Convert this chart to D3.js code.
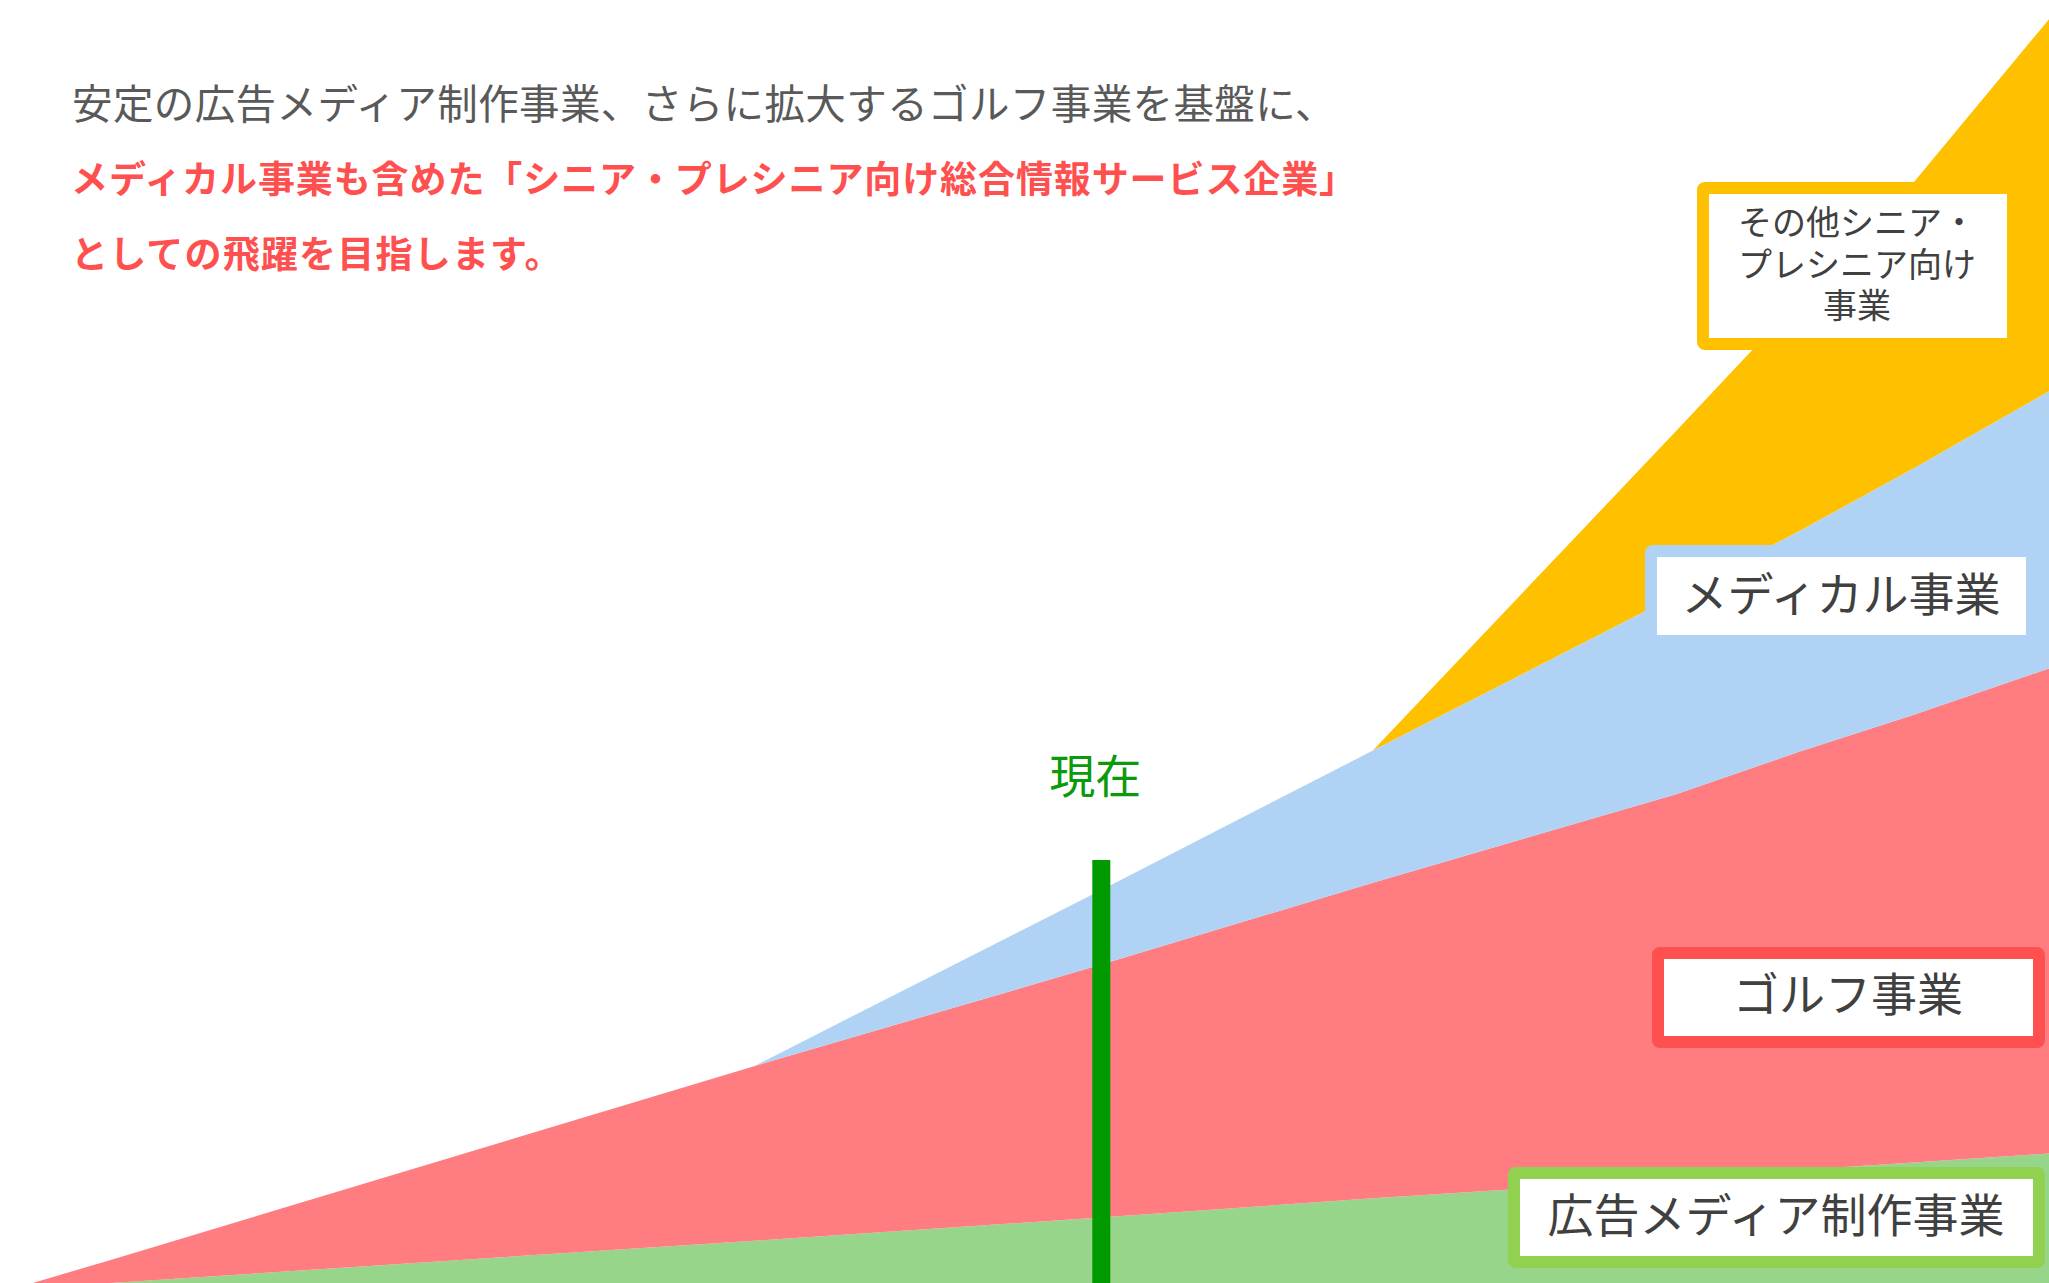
<!DOCTYPE html>
<html>
<head>
<meta charset="utf-8">
<script src="https://cdnjs.cloudflare.com/ajax/libs/d3/7.8.5/d3.min.js"></script>
<style>
  body { margin: 0; background: #ffffff; }
  svg { display: block; }
</style>
</head>
<body>
<script>
// time axis, 0 = far left, 100 = far right (no tick labels on the picture)
var periods = [1.6, 5.4, 36.8, 53.7, 67.0, 81.8, 87.8, 93.4, 100];

// business volume, share of the chart height
var adMedia  = [0, 0, 3.3, 5.1, 6.6, 8.1, 8.8, 9.4, 10.1];
var golf     = [0, 1.8, 13.6, 19.7, 24.6, 30.0, 32.6, 34.9, 37.8];
var medical  = [0, 0, 0, 5.8, 10.3, 15.5, 17.2, 19.2, 21.6];
var otherBiz = [0, 0, 0, 0, 0, 12.8, 18.0, 22.3, 29.0];

var keys = ["ad", "golf", "medical", "other"];
var nowPeriod = 53.7;

var headline = [
  "安定の広告メディア制作事業、さらに拡大するゴルフ事業を基盤に、",
  "メディカル事業も含めた「シニア・プレシニア向け総合情報サービス企業」",
  "としての飛躍を目指します。"
];
var nowLabel = "現在";
var otherLines = ["その他シニア・", "プレシニア向け", "事業"];
var medicalLabel = "メディカル事業";
var golfLabel = "ゴルフ事業";
var adLabel = "広告メディア制作事業";

var width = 2049,
  height = 1283;

var font = "'Noto Sans CJK JP', 'Noto Sans', sans-serif";
var colors = { ad: "#97d58a", golf: "#ff7c80", medical: "#b0d3f5", other: "#ffc000" };

var svg = d3.select("body").append("svg")
    .attr("width", width)
    .attr("height", height);

var xScale = d3.scaleLinear().domain([0, 100]).range([0, width]);
var yScale = d3.scaleLinear().domain([0, 100]).range([height, 0]);

// build rows for d3.stack
var rows = periods.map(function(p, i) {
  return { period: p, ad: adMedia[i], golf: golf[i], medical: medical[i], other: otherBiz[i] };
});

var series = d3.stack().keys(keys)(rows);

var area = d3.area()
    .x(function(d) { return xScale(d.data.period); })
    .y0(function(d) { return yScale(d[0]); })
    .y1(function(d) { return yScale(d[1]); });

// stacked areas
svg.selectAll("path.layer")
    .data(series)
    .enter()
    .append("path")
    .attr("class", "layer")
    .attr("d", area)
    .style("fill", function(d) { return colors[d.key]; });

// "now" marker
svg.append("rect")
    .attr("x", xScale(nowPeriod) - 8)
    .attr("y", 860)
    .attr("width", 18)
    .attr("height", height - 860)
    .style("fill", "#009900");

svg.append("text")
    .attr("x", xScale(nowPeriod) - 5)
    .attr("y", 773)
    .attr("text-anchor", "middle")
    .attr("dominant-baseline", "central")
    .style("font-family", font)
    .style("font-size", "46px")
    .style("fill", "#0a9a0a")
    .text(nowLabel);

// label boxes: coloured frame + white inside
function labelBox(x0, y0, x1, y1, color) {
  svg.append("rect")
      .attr("x", x0).attr("y", y0)
      .attr("width", x1 - x0).attr("height", y1 - y0)
      .attr("rx", 8).attr("ry", 8)
      .style("fill", color);
  svg.append("rect")
      .attr("x", x0 + 12).attr("y", y0 + 12)
      .attr("width", x1 - x0 - 24).attr("height", y1 - y0 - 24)
      .style("fill", "#ffffff");
}

labelBox(1697, 182, 2019, 350, colors.other);
labelBox(1645, 545, 2038, 647, colors.medical);
labelBox(1652, 947, 2045, 1048, "#ff5050");
labelBox(1508, 1167, 2045, 1268, "#92d050");

function boxText(x, y, size, txt) {
  svg.append("text")
      .attr("x", x)
      .attr("y", y)
      .attr("text-anchor", "middle")
      .attr("dominant-baseline", "central")
      .style("font-family", font)
      .style("font-size", size + "px")
      .style("fill", "#404040")
      .text(txt);
}

// three-line label as one text with tspans
svg.append("text")
    .attr("text-anchor", "middle")
    .attr("dominant-baseline", "central")
    .style("font-family", font)
    .style("font-size", "34px")
    .style("fill", "#404040")
  .selectAll("tspan")
    .data(otherLines)
    .enter()
    .append("tspan")
    .attr("x", 1857)
    .attr("y", function(d, i) { return 220 + i * 41.5; })
    .text(function(d) { return d; });

boxText(1841, 591, 46, medicalLabel);
boxText(1848, 991, 46, golfLabel);
boxText(1776, 1212, 46, adLabel);

// headline text
svg.append("text")
    .attr("x", 72)
    .attr("y", 101)
    .attr("dominant-baseline", "central")
    .style("font-family", font)
    .style("font-size", "40.5px")
    .style("letter-spacing", "0.4px")
    .style("fill", "#595959")
    .text(headline[0]);

headline.slice(1).forEach(function(t, i) {
  svg.append("text")
      .attr("x", 71)
      .attr("y", 177 + i * 75)
      .attr("dominant-baseline", "central")
      .style("font-family", font)
      .style("font-size", "37px")
      .style("letter-spacing", i == 0 ? "0.9px" : "1.2px")
      .style("font-weight", "bold")
      .style("fill", "#ff5050")
      .text(t);
});
</script>
</body>
</html>
